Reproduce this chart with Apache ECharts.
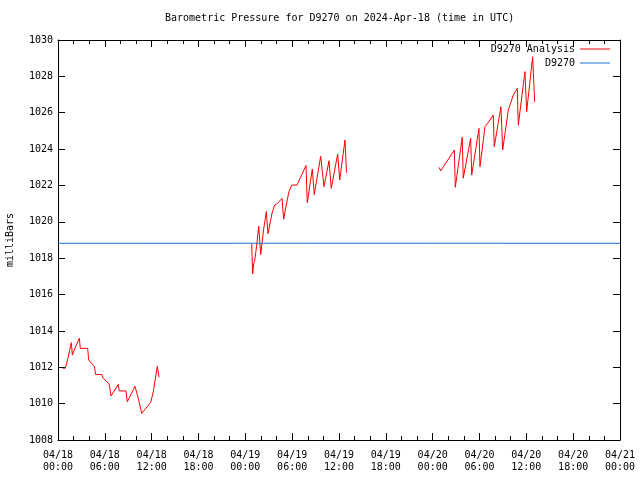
<!DOCTYPE html>
<html><head><meta charset="utf-8">
<script src="https://cdn.jsdelivr.net/npm/echarts@6/dist/echarts.min.js"></script>
<style>html,body{margin:0;padding:0;background:#fff}#c{width:640px;height:480px}</style>
</head><body><div id="c"></div>
<script>
// hours since 2024-04-18 00:00 UTC
const seg1Hours = [0.60,0.94,1.28,1.45,1.71,1.84,2.09,2.73,2.86,3.80,3.93,4.66,4.82,5.62,5.80,6.57,6.79,7.72,7.85,8.71,8.88,9.86,10.29,10.72,10.93,11.88,12.21,12.72,12.94];
const seg1Values = [1011.95,1011.95,1012.5,1012.85,1013.35,1012.67,1012.95,1013.6,1013.04,1013.04,1012.4,1012.05,1011.6,1011.6,1011.39,1011.06,1010.42,1011.06,1010.7,1010.7,1010.1,1010.95,1010.29,1009.47,1009.47,1010.07,1010.66,1012.05,1011.45];

const seg2Hours = [24.81,24.94,25.07,25.20,25.46,25.71,25.97,26.35,26.69,26.90,27.42,27.76,28.09,28.70,28.91,29.12,29.59,29.94,30.62,31.77,31.94,32.58,32.83,33.65,34.08,34.72,35.01,35.83,36.09,36.77,36.96];
const seg2Values = [1018.8,1017.13,1017.72,1017.86,1018.72,1019.77,1018.2,1019.6,1020.56,1019.35,1020.47,1020.92,1021.0,1021.29,1020.14,1020.65,1021.66,1022.02,1022.02,1023.1,1021.05,1022.9,1021.5,1023.6,1021.93,1023.36,1021.84,1023.73,1022.3,1024.5,1022.7];

const seg3Hours = [48.81,49.03,50.77,50.90,51.79,51.92,52.87,53.00,53.93,54.06,54.49,54.70,54.92,55.34,55.76,55.89,56.75,56.97,57.69,58.33,58.84,58.97,59.82,60.04,60.81,61.07];
const seg3Values = [1023.0,1022.8,1023.95,1021.9,1024.65,1022.4,1024.6,1022.57,1025.14,1023.03,1024.5,1025.23,1025.32,1025.6,1025.87,1024.13,1026.33,1023.95,1026.15,1026.97,1027.34,1025.32,1028.26,1026.06,1029.08,1026.6];

const stationHours = [0, 72];
const stationValues = [1018.82, 1018.82];

const yTicks = [1008,1010,1012,1014,1016,1018,1020,1022,1024,1026,1028,1030];
const seriesNames = ['D9270 Analysis', 'D9270'];
const titleText = 'Barometric Pressure for D9270 on 2024-Apr-18 (time in UTC)';
const yName = 'milliBars';

function pairs(h, v) { return h.map((x, i) => [x, v[i]]); }
const analysisData = [].concat(pairs(seg1Hours, seg1Values), [[13.5, null]],
  pairs(seg2Hours, seg2Values), [[42, null]], pairs(seg3Hours, seg3Values));

const FONT = 'DejaVu Sans Mono';
function xLabel(v) {
  const day = 18 + Math.floor(v / 24);
  const hr = v % 24;
  return '04/' + String(day).padStart(2, '0') + '\n' + String(hr).padStart(2, '0') + ':00';
}
const axisLine = { show: true, onZero: false, lineStyle: { color: '#000', width: 1 } };
const xCommon = {
  type: 'value', min: 0, max: 72, interval: 6,
  axisLine, splitLine: { show: false },
  axisTick: { show: true, inside: true, length: 7, lineStyle: { color: '#000' } },
  minorTick: { show: true, splitNumber: 3, length: 4, lineStyle: { color: '#000' } },
  minorSplitLine: { show: false }
};
const yCommon = {
  type: 'value', min: yTicks[0], max: yTicks[yTicks.length - 1], interval: 2,
  axisLine, splitLine: { show: false },
  axisTick: { show: true, inside: true, length: 7, lineStyle: { color: '#000' } }
};
const lineIcon = 'path://M0,0 L30,0 L30,1 L0,1 Z';

const chart = echarts.init(document.getElementById('c'), null, { renderer: 'canvas' });
chart.setOption({
  animation: false,
  backgroundColor: '#fff',
  textStyle: { fontFamily: FONT },
  title: {
    text: titleText, left: 165, top: 13, padding: 0,
    textStyle: { fontFamily: FONT, fontSize: 10, fontWeight: 'normal', color: '#000' }
  },
  legend: {
    orient: 'vertical', right: 30, top: 43, align: 'right',
    itemWidth: 30, itemHeight: 12, itemGap: 2, padding: 0,
    data: [{ name: seriesNames[0], icon: lineIcon }, { name: seriesNames[1], icon: lineIcon }],
    textStyle: { fontFamily: FONT, fontSize: 10, color: '#000', lineHeight: 12 }
  },
  grid: { left: 58, right: 20, top: 40, bottom: 40, containLabel: false, outerBoundsMode: 'none' },
  xAxis: [
    Object.assign({}, xCommon, { position: 'bottom',
      axisLabel: { formatter: xLabel, color: '#000', fontFamily: FONT, fontSize: 10, lineHeight: 12, margin: 9 } }),
    Object.assign({}, xCommon, { position: 'top', axisLabel: { show: false } })
  ],
  yAxis: [
    Object.assign({}, yCommon, { position: 'left', name: yName, nameLocation: 'middle', nameGap: 43,
      nameTextStyle: { fontFamily: FONT, fontSize: 10, color: '#000' },
      axisLabel: { color: '#000', fontFamily: FONT, fontSize: 10, margin: 5, formatter: v => String(v) } }),
    Object.assign({}, yCommon, { position: 'right', axisLabel: { show: false } })
  ],
  series: [
    { name: seriesNames[0], type: 'line', xAxisIndex: 0, yAxisIndex: 0, data: analysisData,
      showSymbol: false, symbol: 'none', connectNulls: false,
      lineStyle: { color: '#ff0000', width: 1 }, itemStyle: { color: '#ff0000' } },
    { name: seriesNames[1], type: 'line', xAxisIndex: 0, yAxisIndex: 0, data: pairs(stationHours, stationValues),
      showSymbol: false, symbol: 'none',
      lineStyle: { color: '#1a70d8', width: 1 }, itemStyle: { color: '#1a70d8' } }
  ]
});
</script></body></html>
